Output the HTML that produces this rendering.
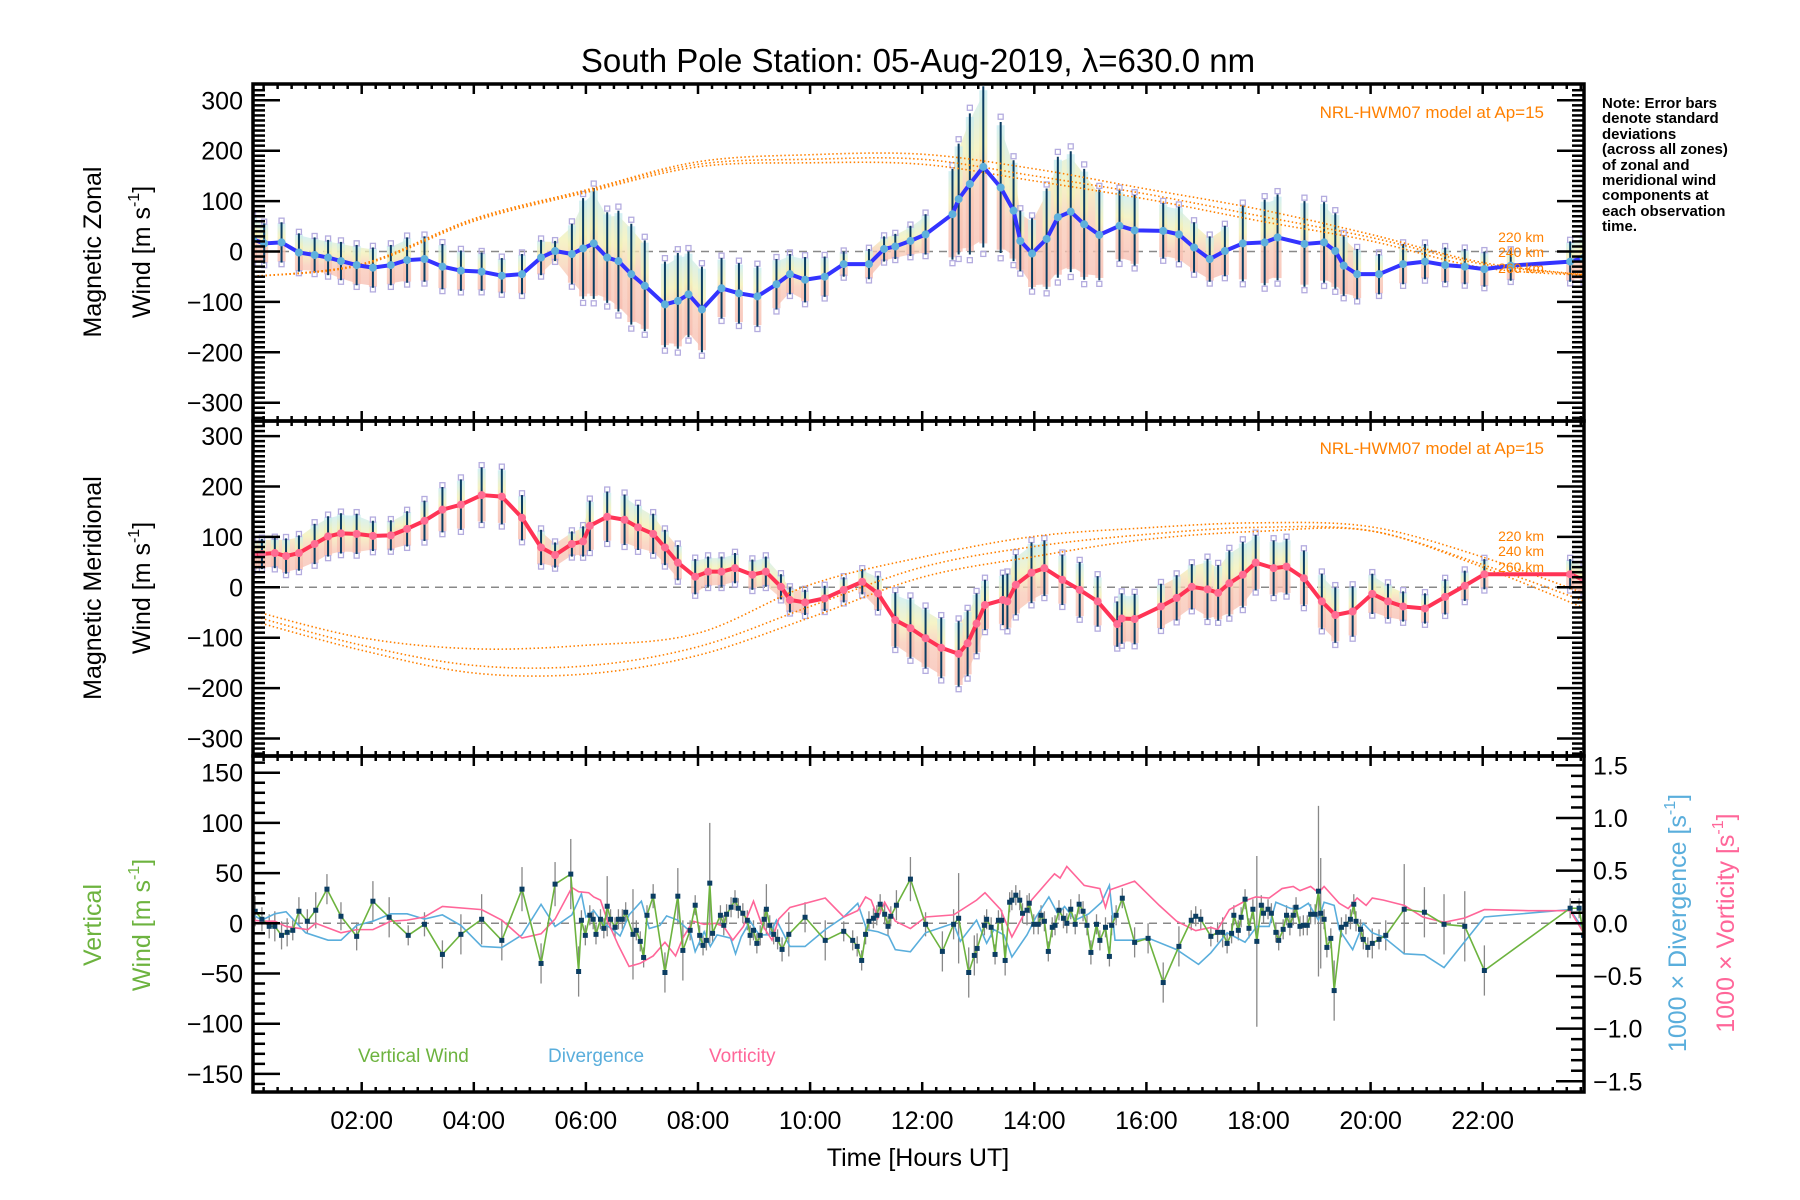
<!DOCTYPE html>
<html><head><meta charset="utf-8"><style>
html,body{margin:0;padding:0;background:#fff;}
svg{display:block;font-family:"Liberation Sans",sans-serif;}
</style></head><body>
<svg id="chart" xmlns="http://www.w3.org/2000/svg" width="1800" height="1200" viewBox="0 0 1800 1200">
<defs>
<clipPath id="c1"><rect x="253" y="84" width="1331" height="337"/></clipPath>
<clipPath id="c2"><rect x="253" y="421" width="1331" height="335"/></clipPath>
<clipPath id="c3"><rect x="253" y="756" width="1331" height="336"/></clipPath>
<linearGradient id="band" x1="0" y1="0" x2="0" y2="1">
<stop offset="0" stop-color="#c6ecf2"/><stop offset="0.35" stop-color="#f3f0b4"/><stop offset="0.6" stop-color="#f8c8b4"/><stop offset="1" stop-color="#f7bcb0"/>
</linearGradient>
</defs>
<text x="918" y="72" font-size="33" text-anchor="middle">South Pole Station: 05-Aug-2019, λ=630.0 nm</text>
<g id="g1" clip-path="url(#c1)"></g>
<g id="g2" clip-path="url(#c2)"></g>
<g id="g3" clip-path="url(#c3)"></g>
<g id="axes"></g>
<g font-size="25">
<text transform="translate(101,252) rotate(-90)" text-anchor="middle">Magnetic Zonal</text>
<text transform="translate(150,252) rotate(-90)" text-anchor="middle">Wind [m s<tspan font-size="16" dy="-11">-1</tspan><tspan dy="11">]</tspan></text>
</g>
<g font-size="25">
<text transform="translate(101,588) rotate(-90)" text-anchor="middle">Magnetic Meridional</text>
<text transform="translate(150,588) rotate(-90)" text-anchor="middle">Wind [m s<tspan font-size="16" dy="-11">-1</tspan><tspan dy="11">]</tspan></text>
</g>
<g font-size="25" fill="#6db33f">
<text transform="translate(101,925) rotate(-90)" text-anchor="middle">Vertical</text>
<text transform="translate(150,925) rotate(-90)" text-anchor="middle">Wind [m s<tspan font-size="16" dy="-11">-1</tspan><tspan dy="11">]</tspan></text>
</g>
<text font-size="25" fill="#5aaedc" transform="translate(1686,923) rotate(-90)" text-anchor="middle">1000 × Divergence [s<tspan font-size="16" dy="-11">-1</tspan><tspan dy="11">]</tspan></text>
<text font-size="25" fill="#ff6699" transform="translate(1734,923) rotate(-90)" text-anchor="middle">1000 × Vorticity [s<tspan font-size="16" dy="-11">-1</tspan><tspan dy="11">]</tspan></text>
<text x="918" y="1166" font-size="25" text-anchor="middle">Time [Hours UT]</text>
<g font-size="15" font-weight="bold">
<text x="1602" y="108">Note: Error bars</text>
<text x="1602" y="123">denote standard</text>
<text x="1602" y="139">deviations</text>
<text x="1602" y="154">(across all zones)</text>
<text x="1602" y="170">of zonal and</text>
<text x="1602" y="185">meridional wind</text>
<text x="1602" y="200">components at</text>
<text x="1602" y="216">each observation</text>
<text x="1602" y="231">time.</text>
</g>
<g fill="#ff8000" text-anchor="end">
<text x="1544" y="118" font-size="17">NRL-HWM07 model at Ap=15</text>
<text x="1544" y="454" font-size="17">NRL-HWM07 model at Ap=15</text>
<text x="1544" y="242" font-size="14">220 km</text>
<text x="1544" y="257" font-size="14">240 km</text>
<text x="1544" y="273" font-size="14">260 km</text>
<text x="1544" y="541" font-size="14">220 km</text>
<text x="1544" y="556" font-size="14">240 km</text>
<text x="1544" y="572" font-size="14">260 km</text>
</g>
<g font-size="19">
<text x="358" y="1062" fill="#6db33f">Vertical Wind</text>
<text x="548" y="1062" fill="#5aaedc">Divergence</text>
<text x="709" y="1062" fill="#ff6699">Vorticity</text>
</g>
</svg>
<script>
// ---------- data ----------
const zonalH = [0.06,0.26,0.57,0.88,1.16,1.40,1.63,1.91,2.20,2.52, 2.81,3.12,3.44,3.77,4.14,4.50,4.86,5.20,5.45,5.75, 5.95,6.14,6.38,6.58,6.81,7.05,7.41,7.64,7.83,8.07, 8.42,8.73,9.06,9.40,9.64,9.91,10.26,10.60,11.05,11.32, 11.52,11.79,12.06,12.54,12.65,12.85,13.09,13.40,13.63,13.75, 13.96,14.22,14.42,14.65,14.89,15.16,15.52,15.79,16.30,16.58, 16.85,17.13,17.40,17.72,18.11,18.34,18.82,19.17,19.37,19.52, 19.76,20.15,20.58,20.97,21.33,21.68,22.03,22.50,23.56,23.80];
const zonalV = [24,16,18,-2,-7,-12,-19,-27,-32,-27, -17,-15,-30,-38,-40,-48,-45,-12,1,-5, 6,16,-12,-19,-45,-68,-105,-98,-85,-115, -73,-83,-89,-65,-45,-56,-50,-25,-25,5, 10,21,34,74,104,134,168,127,81,21, -4,25,68,79,54,33,51,42,41,34, 8,-15,1,16,18,28,15,18,1,-28, -45,-45,-25,-20,-27,-30,-35,-28,-20,-13];
const zonalErr = [45,40,40,38,35,35,38,40,40,40, 45,45,45,40,38,35,40,35,20,60, 100,110,90,100,100,90,85,95,85,85, 60,60,60,50,40,45,40,25,30,25, 25,30,40,90,110,140,160,130,100,60, 70,100,120,120,110,90,70,70,55,55, 50,45,50,75,85,85,85,80,75,60, 50,40,40,35,35,35,35,30,40,45];
const meridH = [0.06,0.22,0.45,0.65,0.88,1.16,1.40,1.63,1.91,2.20, 2.52,2.81,3.12,3.44,3.77,4.14,4.50,4.86,5.20,5.45, 5.75,5.95,6.07,6.38,6.69,6.93,7.20,7.41,7.64,7.95, 8.18,8.42,8.66,8.97,9.21,9.48,9.64,9.91,10.26,10.60, 10.93,11.21,11.52,11.79,12.06,12.34,12.65,12.81,12.97,13.12, 13.44,13.52,13.67,13.95,14.18,14.50,14.81,15.13,15.48,15.56, 15.79,16.26,16.54,16.81,17.09,17.28,17.48,17.72,17.95,18.27, 18.50,18.81,19.13,19.37,19.68,20.03,20.31,20.58,20.97,21.33, 21.68,22.03,23.56,23.80];
const meridV = [64,66,68,62,68,86,101,107,106,102, 103,116,132,154,164,183,180,138,79,64, 86,91,122,140,134,119,106,79,49,21, 31,31,38,25,31,1,-25,-30,-22,-5, 11,-12,-65,-81,-101,-120,-132,-111,-72,-35, -25,-28,5,29,38,15,-5,-28,-73,-62, -63,-38,-21,1,-4,-11,8,25,49,38, 41,18,-28,-55,-48,-13,-28,-38,-42,-19, 3,26,26,15];
const meridErr = [30,30,30,35,35,40,40,40,40,30, 30,35,40,45,50,55,55,45,35,25, 25,30,50,50,50,45,40,35,35,35, 30,30,30,30,30,25,25,25,25,25, 25,35,55,60,60,60,65,65,60,50, 50,55,60,60,55,50,55,50,45,50, 50,45,45,45,60,55,65,65,55,55, 55,55,55,55,50,40,35,30,30,35, 30,30,30,30];
const modelH = [0,2,4,6,8,10,12,14,16,18,20,22,24];
const zonal220 = [-50,-25,65,122,178,192,193,164,124,84,34,-22,-48];
const zonal240 = [-50,-25,63,120,173,183,183,150,114,71,28,-25,-48];
const zonal260 = [-50,-27,60,117,168,176,173,140,104,61,21,-32,-48];
const merid220 = [-45,-100,-122,-115,-91,5,60,101,118,128,120,60,-20];
const merid240 = [-55,-115,-155,-156,-118,-38,40,81,105,119,112,45,-35];
const merid260 = [-65,-125,-170,-172,-135,-60,20,61,95,111,112,40,-50];
// [hour, vertical wind m/s, std]
const verticalWind = [[0.10,12,15],[0.22,4,12],[0.35,-3,12],[0.45,-3,15],[0.57,-12,14],[0.67,-9,14],[0.77,-7,10],[0.88,12,14],[1.03,2,12],[1.18,13,18],[1.38,34,15],[1.63,7,14],[1.91,-13,14],[2.20,22,20],[2.49,6,20],[2.83,-12,10],[3.12,-1,12],[3.44,-31,14],[3.77,-11,20],[4.14,4,25],[4.50,-17,20],[4.86,34,22],[5.20,-40,20],[5.45,39,22],[5.73,49,35],[5.87,-48,25],[5.92,3,10],[5.99,-12,10],[6.07,8,10],[6.13,4,10],[6.18,-11,10],[6.26,4,10],[6.32,-5,10],[6.38,17,30],[6.44,4,10],[6.52,-4,10],[6.58,4,10],[6.65,4,10],[6.71,11,10],[6.84,-11,45],[6.90,-7,10],[6.97,-18,10],[7.03,-34,10],[7.09,8,10],[7.20,27,12],[7.41,-49,20],[7.64,27,28],[7.73,-27,30],[7.86,-7,10],[7.95,18,10],[8.03,-12,10],[8.09,-22,10],[8.15,-17,10],[8.21,40,60],[8.26,-10,10],[8.40,8,10],[8.46,-2,10],[8.51,9,10],[8.59,16,10],[8.66,23,10],[8.72,15,10],[8.80,10,10],[8.88,3,10],[8.93,-12,10],[8.99,-7,10],[9.05,-20,10],[9.11,-12,10],[9.18,4,10],[9.22,14,25],[9.28,-2,10],[9.35,-11,10],[9.42,-16,10],[9.50,-26,12],[9.62,-11,22],[9.91,6,15],[10.27,-17,20],[10.60,-8,10],[10.76,-17,10],[10.84,-23,10],[10.92,-37,10],[10.99,-11,10],[11.05,2,10],[11.13,5,10],[11.19,8,10],[11.25,19,10],[11.33,9,10],[11.39,-3,10],[11.44,7,10],[11.54,18,15],[11.79,44,22],[12.06,-1,12],[12.36,-28,20],[12.56,-1,15],[12.65,5,45],[12.83,-49,25],[12.93,-32,20],[12.98,-25,15],[13.11,-2,10],[13.15,4,10],[13.23,-4,10],[13.30,-31,10],[13.36,3,10],[13.42,3,10],[13.48,-37,15],[13.56,21,10],[13.60,23,10],[13.67,28,10],[13.74,23,10],[13.79,10,10],[13.87,13,15],[13.91,20,10],[13.99,-1,10],[14.07,-1,10],[14.12,8,10],[14.18,2,10],[14.25,-28,10],[14.32,-4,10],[14.37,-2,10],[14.44,13,10],[14.52,5,10],[14.58,0,10],[14.65,14,10],[14.73,-1,10],[14.80,19,10],[14.87,12,10],[14.94,-2,10],[15.01,-29,12],[15.11,-1,10],[15.17,-17,10],[15.27,-4,10],[15.34,-33,10],[15.38,-2,10],[15.46,8,10],[15.57,25,10],[15.79,-19,15],[16.03,-15,15],[16.30,-59,20],[16.58,-23,20],[16.80,3,10],[16.88,7,10],[16.97,4,10],[17.15,-13,10],[17.27,-9,10],[17.36,-9,15],[17.44,-20,10],[17.52,-10,10],[17.56,8,10],[17.64,-7,10],[17.69,6,10],[17.76,24,10],[17.83,-5,10],[17.90,14,10],[17.97,-18,85],[18.05,18,10],[18.09,10,10],[18.17,14,10],[18.23,10,10],[18.31,-9,10],[18.36,-17,10],[18.44,-6,10],[18.50,8,10],[18.56,-2,10],[18.62,8,10],[18.67,16,10],[18.74,-3,10],[18.80,-2,10],[18.87,-2,10],[18.93,9,10],[19.01,9,10],[19.07,32,85],[19.11,10,55],[19.17,4,10],[19.22,-24,10],[19.29,-15,10],[19.35,-67,30],[19.48,-4,10],[19.56,-1,10],[19.64,4,10],[19.70,19,10],[19.74,2,10],[19.82,-6,10],[19.87,-16,10],[19.95,-24,10],[20.03,-20,15],[20.15,-16,10],[20.27,-12,15],[20.60,14,45],[20.96,11,25],[21.31,-1,30],[21.68,-3,35],[22.03,-47,25],[23.56,15,10],[23.72,15,10],[23.80,-12,10]];
// [hour, 1000 x divergence]
const divergence = [[0.06,0.08],[0.22,0.03],[0.45,0.09],[0.65,0.11],[1.0,-0.09],[1.40,-0.16],[1.63,-0.16],[1.91,-0.02],[2.20,0.02],[2.52,0.09],[2.81,0.09],[3.12,0.04],[3.44,0.08],[3.77,-0.02],[4.14,-0.22],[4.50,-0.23],[4.86,-0.11],[5.20,0.18],[5.45,-0.03],[5.75,0.08],[5.92,0.28],[6.00,0.06],[6.14,0.12],[6.30,0],[6.46,-0.05],[6.61,-0.12],[6.77,0.08],[6.99,0.21],[7.13,-0.05],[7.32,-0.02],[7.44,0.07],[7.64,0.03],[7.86,-0.08],[7.95,-0.27],[8.11,-0.08],[8.22,-0.22],[8.34,-0.11],[8.58,-0.14],[8.67,-0.29],[8.77,-0.13],[8.93,0.02],[9.09,-0.11],[9.28,-0.11],[9.40,0.03],[9.64,-0.22],[9.91,-0.22],[10.27,-0.06],[10.60,0.06],[10.85,0.19],[11.01,-0.06],[11.21,-0.08],[11.40,-0.12],[11.52,-0.25],[11.79,-0.27],[12.06,-0.09],[12.56,0],[12.68,-0.17],[12.97,0.03],[13.15,-0.19],[13.28,-0.06],[13.46,-0.11],[13.60,-0.32],[13.87,-0.11],[14.03,0.06],[14.26,0.25],[14.42,0.09],[14.54,0.16],[14.73,0.03],[14.97,0.09],[15.2,0.2],[15.34,0.36],[15.44,-0.16],[15.79,-0.16],[16.03,-0.14],[16.54,-0.25],[16.93,-0.39],[17.15,-0.28],[17.44,-0.09],[17.76,-0.18],[17.97,-0.03],[18.19,-0.03],[18.31,0.2],[18.58,0.14],[18.74,0.14],[18.89,0.19],[19.07,0.03],[19.17,0.2],[19.35,0.17],[19.44,-0.06],[19.68,-0.25],[19.87,0],[20.03,-0.09],[20.23,-0.13],[20.60,-0.29],[20.96,-0.30],[21.31,-0.42],[22.03,0.06],[23.56,0.13],[23.80,-0.06]];
// [hour, 1000 x vorticity]
const vorticity = [[0.06,0.03],[0.22,0.02],[0.45,0.02],[0.65,-0.03],[1.04,-0.06],[1.18,0],[1.63,-0.09],[1.91,-0.06],[2.20,-0.06],[2.52,0.02],[2.81,0.03],[3.12,0.06],[3.44,0.16],[4.14,0.13],[4.50,0.03],[4.86,-0.14],[5.20,-0.10],[5.45,0.04],[5.75,0.34],[5.87,0.30],[6.05,0.29],[6.14,0.25],[6.26,0.22],[6.38,0.03],[6.58,-0.21],[6.77,-0.41],[6.97,-0.38],[7.20,-0.31],[7.41,-0.18],[7.60,-0.31],[7.73,-0.14],[7.91,0.02],[8.11,-0.01],[8.30,0],[8.46,-0.03],[8.62,-0.16],[8.81,-0.03],[8.99,0.21],[9.13,0],[9.32,-0.16],[9.44,0.04],[9.64,0.15],[10.27,0.24],[10.60,0.06],[10.85,0.12],[10.99,0.25],[11.09,0.22],[11.21,0.05],[11.33,0.2],[11.52,0.02],[11.79,-0.05],[12.06,0.06],[12.56,0.08],[12.97,0.22],[13.12,0.29],[13.40,0.13],[13.60,-0.13],[13.95,0.22],[14.26,0.41],[14.36,0.47],[14.46,0.43],[14.58,0.54],[14.89,0.36],[15.17,0.33],[15.27,0.15],[15.36,0.32],[15.79,0.40],[16.23,0.17],[16.54,0.02],[16.88,-0.07],[17.15,-0.04],[17.27,-0.06],[17.48,0.13],[17.79,0.22],[17.95,0.25],[18.19,0.24],[18.42,0.33],[18.62,0.35],[18.74,0.31],[18.93,0.35],[19.07,0.29],[19.17,0.35],[19.44,0.19],[19.60,0.14],[19.76,0.24],[19.92,0.17],[20.03,0.24],[20.23,0.22],[20.60,0.17],[20.93,0.06],[21.31,0.01],[21.68,0.05],[22.03,0.13],[22.82,0.12],[23.56,0.12],[23.80,-0.09]];
const leftTicks12 = [300,200,100,0,-100,-200,-300];
const leftTicks3 = [150,100,50,0,-50,-100,-150];
const rightTicks3 = [1.5,1.0,0.5,0.0,-0.5,-1.0,-1.5];
const hourTicks = [2,4,6,8,10,12,14,16,18,20,22];

// ---------- scales ----------
const L = 253, R = 1584;
const X = h => 361.7 + (h - 2) * 56.05;
const Y1 = v => 251.5 - v * 0.504;
const Y2 = v => 587.3 - v * 0.504;
const Y3 = v => 923.3 - v * 1.004;
const R3 = u => 923.3 - u * 105.3;
const NS = 'http://www.w3.org/2000/svg';
function mk(tag, attrs, parent) {
  const e = document.createElementNS(NS, tag);
  for (const k in attrs) e.setAttribute(k, attrs[k]);
  parent.appendChild(e);
  return e;
}
const fmt = v => (v < 0 ? '\u2212' : '') + Math.abs(v);
const fmt1 = v => (v < 0 ? '\u2212' : '') + Math.abs(v).toFixed(1);

function smoothPath(hs, vs, fy) {
  const p = hs.map((h, i) => [X(h), fy(vs[i])]);
  let d = 'M' + p[0][0] + ',' + p[0][1];
  for (let i = 0; i < p.length - 1; i++) {
    const p0 = p[Math.max(0, i - 1)], p1 = p[i], p2 = p[i + 1], p3 = p[Math.min(p.length - 1, i + 2)];
    const c1x = p1[0] + (p2[0] - p0[0]) / 6, c1y = p1[1] + (p2[1] - p0[1]) / 6;
    const c2x = p2[0] - (p3[0] - p1[0]) / 6, c2y = p2[1] - (p3[1] - p1[1]) / 6;
    d += ' C' + c1x + ',' + c1y + ' ' + c2x + ',' + c2y + ' ' + p2[0] + ',' + p2[1];
  }
  return d;
}

function windPanel(g, hs, vs, es, fy, lineColor, dotColor, models, prefix) {
  // zero line
  const z = mk('line', {x1: L, x2: R, y1: fy(0), y2: fy(0), stroke: '#888', 'stroke-width': 1.5, 'stroke-dasharray': '8,6'}, g);
  
  
  // pale band envelopes for dense runs
  let run = [0];
  const runs = [];
  for (let i = 1; i < hs.length; i++) {
    if (hs[i] - hs[i - 1] < 0.3) run.push(i); else { runs.push(run); run = [i]; }
  }
  runs.push(run);
  runs.forEach(r => {
    if (r.length < 2) return;
    const top = r.map(i => X(hs[i]) + ',' + fy(vs[i] + es[i] * 0.9));
    const bot = r.slice().reverse().map(i => X(hs[i]) + ',' + fy(vs[i] - es[i] * 0.9));
    const pg = mk('polygon', {points: top.concat(bot).join(' '), fill: 'url(#band)', opacity: 0.75}, g);
    
    
  });
  // per-point colored bars, squares, error bars
  hs.forEach((h, i) => {
    const x = X(h), v = vs[i], e = es[i];
    const b = mk('rect', {x: x - 4, y: fy(v + e * 0.95), width: 8, height: fy(v - e * 0.95) - fy(v + e * 0.95), fill: 'url(#band)', opacity: 0.8}, g);
    
    
    [1.08, -1.08].forEach(s => {
      const q = mk('rect', {x: x - 2.5, y: fy(v + e * s) - 2.5, width: 5, height: 5, fill: 'none', stroke: '#b4acdf', 'stroke-width': 1.3}, g);
      
      
    });
  });
  hs.forEach((h, i) => {
    const eb = mk('line', {x1: X(h), x2: X(h), y1: fy(vs[i] + es[i]), y2: fy(vs[i] - es[i]), stroke: '#0b3d62', 'stroke-width': 2}, g);
    
    
  });
  // model curves
  models.forEach((m, k) => {
    const mp = mk('path', {d: smoothPath(modelH, m, fy), fill: 'none', stroke: '#ff8000', 'stroke-width': 1.6, 'stroke-dasharray': '1.5,2.5'}, g);
    
    
  });
  // fit line
  const ln = mk('polyline', {points: hs.map((h, i) => X(h) + ',' + fy(vs[i])).join(' '), fill: 'none', stroke: lineColor, 'stroke-width': 4, 'stroke-linejoin': 'round'}, g);
  
  
  hs.forEach((h, i) => {
    const c = mk('circle', {cx: X(h), cy: fy(vs[i]), r: 4, fill: dotColor}, g);
    
    
  });
}

const g1 = document.getElementById('g1'), g2 = document.getElementById('g2'), g3 = document.getElementById('g3');
windPanel(g1, zonalH, zonalV, zonalErr, Y1, '#3333ff', '#5fb0dc', [zonal220, zonal240, zonal260], 'zonal');
windPanel(g2, meridH, meridV, meridErr, Y2, '#ff3355', '#ff6d93', [merid220, merid240, merid260], 'meridional');

// panel 3
const z3 = mk('line', {x1: L, x2: R, y1: Y3(0), y2: Y3(0), stroke: '#888', 'stroke-width': 1.5, 'stroke-dasharray': '8,6'}, g3);


verticalWind.forEach(p => {
  const e = mk('line', {x1: X(p[0]), x2: X(p[0]), y1: Y3(p[1] + p[2]), y2: Y3(p[1] - p[2]), stroke: '#888', 'stroke-width': 1.3}, g3);
  
  
});
const dv = mk('polyline', {points: divergence.map(p => X(p[0]) + ',' + R3(p[1])).join(' '), fill: 'none', stroke: '#5aaedc', 'stroke-width': 1.6}, g3);


const vo = mk('polyline', {points: vorticity.map(p => X(p[0]) + ',' + R3(p[1])).join(' '), fill: 'none', stroke: '#ff6699', 'stroke-width': 1.6}, g3);


const vw = mk('polyline', {points: verticalWind.map(p => X(p[0]) + ',' + Y3(p[1])).join(' '), fill: 'none', stroke: '#6db33f', 'stroke-width': 1.6}, g3);


verticalWind.forEach(p => {
  const s = mk('rect', {x: X(p[0]) - 2.5, y: Y3(p[1]) - 2.5, width: 5, height: 5, fill: '#0b3d62'}, g3);
  
  
});

// ---------- axes ----------
const ax = document.getElementById('axes');
const panels = [[84, 421, Y1], [421, 756, Y2], [756, 1092, Y3]];
panels.forEach((pn, pi) => {
  const [t, b, fy] = pn;
  const fr = mk('rect', {x: L, y: t, width: R - L, height: b - t, fill: 'none', stroke: '#000', 'stroke-width': 3.5}, ax);
  
  
  // x ticks every 15 min
  for (let m = 0; m <= 24 * 4; m++) {
    const h = m / 4, x = X(h);
    if (x < L + 2 || x > R - 2) continue;
    const len = (m % 8 === 0) ? 10 : 5;
    mk('line', {x1: x, x2: x, y1: t, y2: t + len, stroke: '#000', 'stroke-width': 2.5}, ax);
    mk('line', {x1: x, x2: x, y1: b, y2: b - len, stroke: '#000', 'stroke-width': 2.5}, ax);
  }
  // y ticks
  const lo = pi < 2 ? -330 : -160, hi = pi < 2 ? 330 : 160;
  const step = 10, maj = pi < 2 ? 100 : 50;
  for (let v = lo; v <= hi; v += step) {
    const y = fy(v);
    if (y < t + 2 || y > b - 2) continue;
    const len = v % maj === 0 ? 27 : 12;
    mk('line', {x1: L, x2: L + len, y1: y, y2: y, stroke: '#000', 'stroke-width': 2.5}, ax);
    if (pi < 2) mk('line', {x1: R, x2: R - len, y1: y, y2: y, stroke: '#000', 'stroke-width': 2.5}, ax);
  }
  const labels = pi < 2 ? leftTicks12 : leftTicks3;
  labels.forEach(v => {
    const tx = mk('text', {x: 243, y: fy(v) + 9, 'font-size': 25, 'text-anchor': 'end'}, ax);
    tx.textContent = fmt(v);
    
    
  });
});
// right axis panel 3
for (let k = -16; k <= 16; k++) {
  const u = k / 10, y = R3(u);
  if (y < 758 || y > 1090) continue;
  const len = k % 5 === 0 ? 28 : 13;
  mk('line', {x1: R, x2: R - len, y1: y, y2: y, stroke: '#000', 'stroke-width': 2.5}, ax);
}
rightTicks3.forEach(u => {
  const tx = mk('text', {x: 1593, y: R3(u) + 9, 'font-size': 25, 'text-anchor': 'start'}, ax);
  tx.textContent = fmt1(u);
  
  
});
hourTicks.forEach(h => {
  const tx = mk('text', {x: X(h), y: 1129, 'font-size': 25, 'text-anchor': 'middle'}, ax);
  tx.textContent = (h < 10 ? '0' : '') + h + ':00';
  
  
});
</script>
</body></html>
